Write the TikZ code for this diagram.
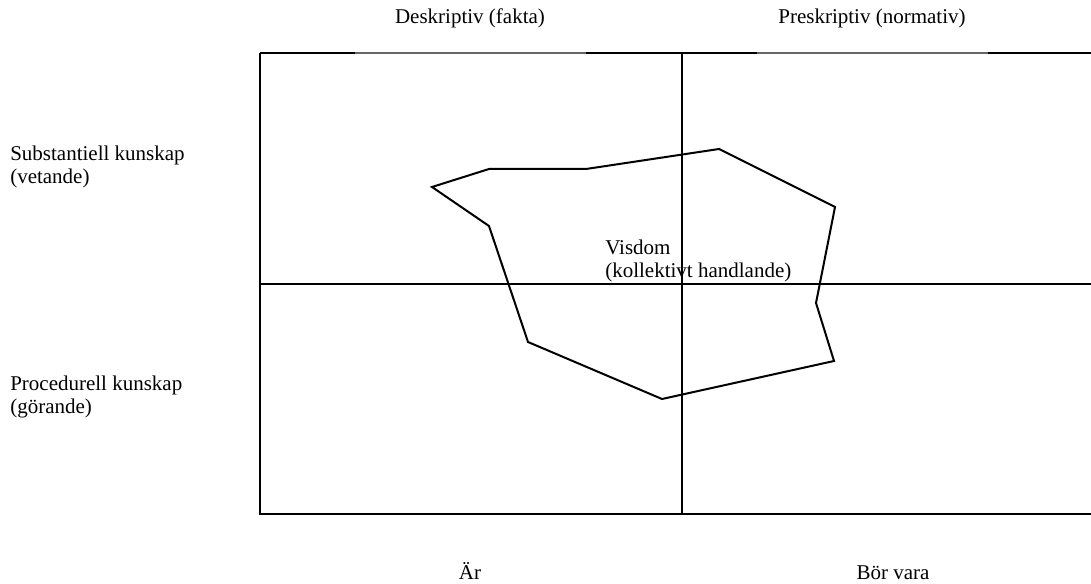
\documentclass[tikz,border=0pt]{standalone}
\usepackage{fontspec}
\setmainfont{Liberation Serif}
\tikzset{
  frame/.style={line width=1.5pt,black},
  thinframe/.style={line width=0.8pt,black!60},
  label/.style={inner sep=0pt,font=\fontsize{15.75}{17}\selectfont,align=left}
}
\begin{document}
\begin{tikzpicture}[x=0.75pt,y=-0.75pt]
  \useasboundingbox (0,0) rectangle (1091,584);
  \coordinate (NW) at (260,53);
  \coordinate (SW) at (260,514);
  \coordinate (NE) at (1091,53);
  \coordinate (SE) at (1091,514);
  \coordinate (N) at (682,53);
  \coordinate (S) at (682,514);
  \coordinate (W) at (260,284);
  \coordinate (E) at (1091,284);
  % frame
  \draw[frame] (NW) -- (SW) -- (SE);
  \draw[frame] (N) -- (S);
  \draw[frame] (W) -- (E);
  % top edge, thin under the headings
  \coordinate (t1) at (355,53);
  \coordinate (t2) at (586,53);
  \coordinate (t3) at (757,53);
  \coordinate (t4) at (988,53);
  \draw[frame] (NW) -- (t1);
  \draw[thinframe] (t1) -- (t2);
  \draw[frame] (t2) -- (t3);
  \draw[thinframe] (t3) -- (t4);
  \draw[frame] (t4) -- (NE);
  % wisdom area
  \draw[line width=1.5pt,line join=miter]
    (432,187) -- (489,169) -- (586,169) -- (719,149) -- (835,207)
    -- (816,303) -- (834,361) -- (662,399) -- (528,342) -- (489,226) -- cycle;
  % headings
  \node[label] (desk) at (470,18) {Deskriptiv (fakta)};
  \node[label] (presk) at (872,18) {Preskriptiv (normativ)};
  \node[label,anchor=west] (subst) at (10,167) {Substantiell kunskap\\(vetande)};
  \node[label,anchor=west] (proc) at (10,397) {Procedurell kunskap\\(görande)};
  \node[label,anchor=west] (visdom) at (605,261) {Visdom\\(kollektivt handlande)};
  % bottom labels
  \node[label,anchor=base] (ar) at (470,579) {Är};
  \node[label,anchor=base] (bor) at (893,579) {Bör vara};
\end{tikzpicture}
\end{document}
